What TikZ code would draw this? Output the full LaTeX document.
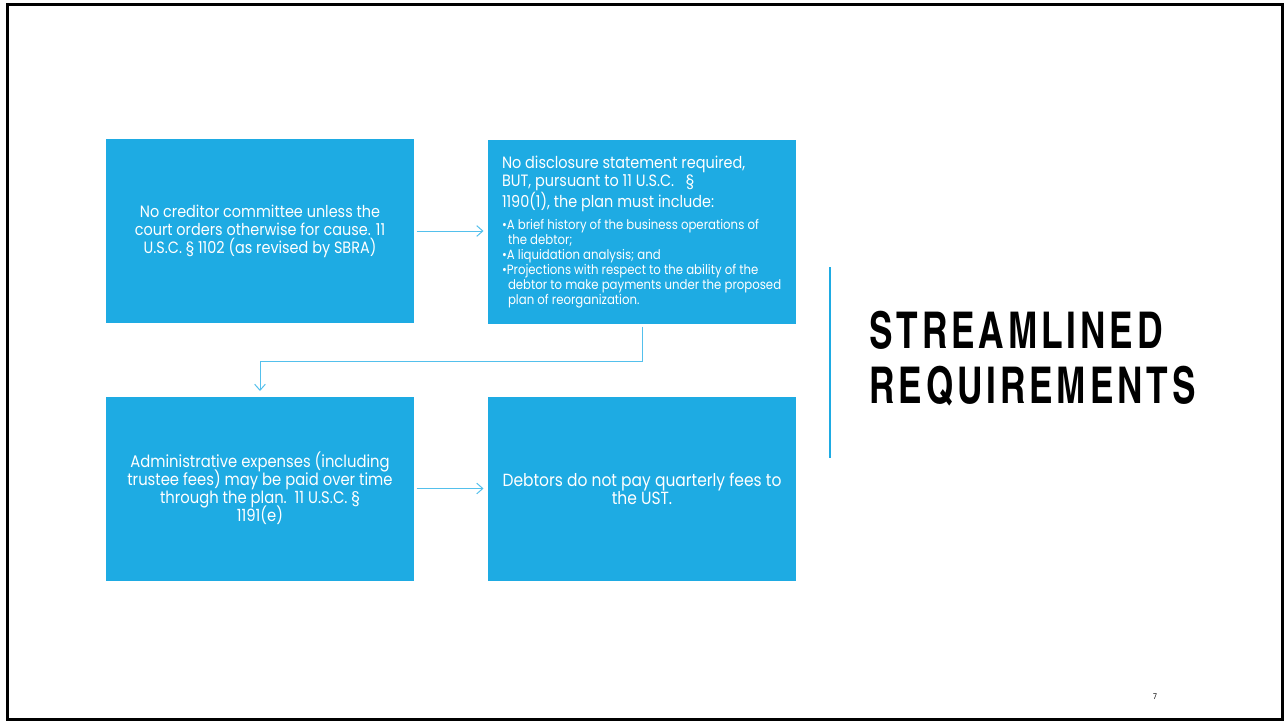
\documentclass[tikz,border=0pt]{standalone}
\usepackage{fontspec}
\setmainfont[FakeStretch=0.88]{Poppins}
\newfontfamily\headfont[LetterSpace=7.5,FakeStretch=0.85]{TeX Gyre Heros Cn}
\usetikzlibrary{arrows.meta}

\definecolor{boxblue}{RGB}{30,171,227}
\definecolor{linkblue}{RGB}{84,192,236}

\newcommand\boxfont[1]{\fontsize{#1}{13.5}\selectfont\lineskiplimit=-10pt\lineskip=0pt}

\tikzset{every picture/.style={line width=0.75pt}}
\tikzset{
  planbox/.style={fill=boxblue, text=white, minimum width=231pt, minimum height=138pt,
    inner sep=0pt, align=center, font=\boxfont{12.3}},
  flowarrow/.style={draw=linkblue, line width=0.75pt, -{Straight Barb[length=4.5pt,width=8pt]}},
}

\begin{document}
\begin{tikzpicture}[x=0.75pt,y=0.75pt,yscale=-1,xscale=1]
\useasboundingbox (0,0) rectangle (1284,721);

%Slide frame
\draw [line width=2.25pt] (7,4) rectangle (1282,719);

%Shape: Rectangle
\node [planbox] (cred) at (260,231) {No creditor committee unless the\\court orders otherwise for cause. 11\\U.S.C. \S\ 1102 (as revised by SBRA)};
%Shape: Rectangle
\node [planbox] (plan) at (642,232) {\begin{minipage}{210pt}\raggedright\parindent=0pt
No disclosure statement required,\\
BUT, pursuant to 11 U.S.C.\ \ \ \S\\
1190(1), the plan must include:\par
\vspace{5pt}
{\fontsize{10}{11.25}\selectfont
\hangindent=4.5pt\hangafter=1 •A brief history of the business operations of\newline the debtor;\par
•A liquidation analysis; and\par
\hangindent=4.5pt\hangafter=1 •Projections with respect to the ability of the\newline debtor to make payments under the proposed\newline plan of reorganization.\par}
\end{minipage}};
%Shape: Rectangle
\node [planbox, font=\boxfont{12.6}] (admin) at (260,488.5) {Administrative expenses (including\\trustee fees) may be paid over time\\through the plan.\ \ 11 U.S.C. \S\\1191(e)};
%Shape: Rectangle
\node [planbox, font=\boxfont{13.2}] (fees) at (642,488.5) {Debtors do not pay quarterly fees to\\the UST.};

%Straight Lines
\draw [flowarrow, shorten <=1.5pt, shorten >=3pt] (cred) -- (plan.west |- cred);
%Straight Lines
\draw [flowarrow, shorten <=1.5pt, shorten >=3.75pt] (plan.south) -- ++(0,37) -| (admin.north);
%Straight Lines
\draw [flowarrow, shorten <=1.5pt, shorten >=3pt] (admin) -- (fees);

%Divider
\draw [draw=boxblue, line width=1.5pt] (830,267) -- (830,458);

% Text Node
\node [anchor=north west, inner sep=0pt, align=left, font=\headfont\bfseries\fontsize{38}{41}\selectfont] (title) at (869,311) {STREAMLINED\\REQUIREMENTS};
% Text Node
\node [font=\fontsize{6}{7}\selectfont] (pagenum) at (1155,697) {7};

\end{tikzpicture}
\end{document}
